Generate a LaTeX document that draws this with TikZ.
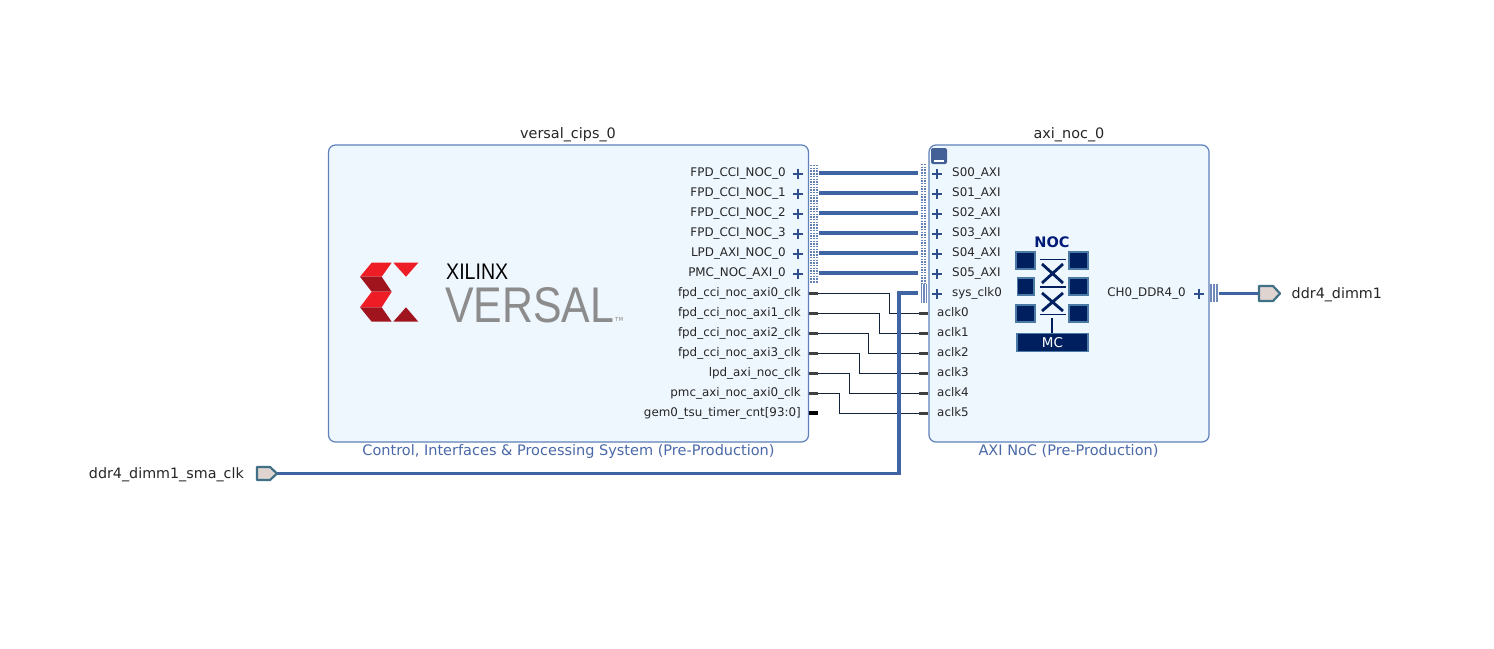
\documentclass[tikz,border=0pt]{standalone}
\usepackage{fontspec}
\usepackage{graphicx}
\setmainfont{DejaVu Sans}
\newfontfamily\logofont{Liberation Sans}
\definecolor{blockfill}{HTML}{EEF6FE}
\definecolor{blockline}{HTML}{5F80B8}
\definecolor{busblue}{HTML}{3F63A3}
\definecolor{plusblue}{HTML}{2F4F8C}
\definecolor{subtitle}{HTML}{4A69A8}
\definecolor{wirenavy}{HTML}{14233C}
\definecolor{stubgrey}{HTML}{404040}
\definecolor{navyicon}{HTML}{001F5F}
\definecolor{iconedge}{HTML}{4A7AA5}
\definecolor{extfill}{HTML}{E0D4D0}
\definecolor{extline}{HTML}{3F7085}
\definecolor{logored}{HTML}{EE1C25}
\definecolor{logodark}{HTML}{A0141E}
\definecolor{logogrey}{HTML}{8C8C8C}
\tikzset{
  block/.style={draw=blockline,line width=1.2pt,fill=blockfill,rounded corners=7pt,inner sep=0pt,outer sep=0pt},
  titletext/.style={font=\fontsize{14.4}{16}\selectfont,text=black!85,inner sep=0pt,anchor=base},
  subtext/.style={font=\fontsize{14.5}{16}\selectfont,text=subtitle,inner sep=0pt,anchor=base},
  portl/.style={font=\fontsize{11.9}{14}\selectfont,text=black!85,inner sep=0pt,anchor=base east},
  portr/.style={font=\fontsize{11.9}{14}\selectfont,text=black!85,inner sep=0pt,anchor=base west},
  extlabel/.style={font=\fontsize{14.3}{16}\selectfont,text=black!85,inner sep=0pt},
  bus/.style={draw=busblue,line width=3.4pt},
  thinwire/.style={draw=wirenavy,line width=0.9pt},
  stub/.style={draw=stubgrey,line width=3pt},
  plusmark/.style={draw=plusblue,line width=2pt},
  dotbar/.style={draw=busblue!80,line width=1.3pt,dash pattern=on 1.4pt off 1.3pt},
  solidbar/.style={draw=busblue!75,line width=1.1pt},
  extport/.style={draw=extline,line width=2.2pt,fill=extfill,line join=round},
  iconsq/.style={draw=iconedge,line width=1.4pt,fill=navyicon},
  iconline/.style={draw=navyicon,line width=1.8pt},
}
\newcommand{\plusat}[2]{\draw[plusmark] (#1-5,#2) -- (#1+5,#2) (#1,#2-5) -- (#1,#2+5);}
\begin{document}
\begin{tikzpicture}[x=1pt,y=-1pt]
\useasboundingbox (0,0) rectangle (1494,648);
\fill[white] (0,0) rectangle (1494,648);

% blocks
\node[block,minimum width=480pt,minimum height=297pt] (cipsbox) at (568.5,293.5) {};
\node[block,minimum width=280pt,minimum height=297pt] (nocbox) at (1069,293.5) {};
\node[titletext] (cipsname) at (568,138.5) {versal\_cips\_0};
\node[titletext] (nocname) at (1069,138.5) {axi\_noc\_0};
\node[subtext] (cipssub) at (568.5,455) {Control, Interfaces \& Processing System (Pre-Production)};
\node[subtext] (nocsub) at (1068.5,455) {AXI NoC (Pre-Production)};

% logo
\fill[logored] (371.7,262.7) -- (391.7,262.7) -- (381.7,276.7) -- (360,276.7) -- cycle;
\fill[logodark] (360,276.7) -- (381.7,276.7) -- (391.7,291.7) -- (371.7,291.7) -- cycle;
\fill[logored] (371.7,291.7) -- (391.7,291.7) -- (381.7,307.3) -- (360,307.3) -- cycle;
\fill[logodark] (360,307.3) -- (381.7,307.3) -- (391.7,321.7) -- (371.7,321.7) -- cycle;
\fill[logored] (393.3,262.7) -- (418.3,262.7) -- (406,276.7) -- cycle;
\fill[logodark] (393.3,321.7) -- (406,307.3) -- (418.3,321.7) -- cycle;
\node[inner sep=0pt,anchor=north west,text=black] (xilinx) at (446,263.5) {\resizebox{62pt}{15.5pt}{\logofont XILINX}};
\node[inner sep=0pt,anchor=north west,text=logogrey] (versal) at (445,287) {\resizebox{169pt}{35pt}{\logofont VERSAL}};
\node[inner sep=0pt,anchor=west,text=logogrey,font=\fontsize{5.5}{6}\selectfont] (tm) at (615,319.5) {TM};

% CIPS labels, ports
\foreach \lab/\y in {FPD\_CCI\_NOC\_0/173,FPD\_CCI\_NOC\_1/193,FPD\_CCI\_NOC\_2/213,FPD\_CCI\_NOC\_3/233,LPD\_AXI\_NOC\_0/253,PMC\_NOC\_AXI\_0/273}
  {\node[portl] at (786,\y+3.3) {\lab};\plusat{798}{\y+0.5}}
\foreach \lab/\y in {fpd\_cci\_noc\_axi0\_clk/293,fpd\_cci\_noc\_axi1\_clk/313,fpd\_cci\_noc\_axi2\_clk/333,fpd\_cci\_noc\_axi3\_clk/353,lpd\_axi\_noc\_clk/373,pmc\_axi\_noc\_axi0\_clk/393,gem0\_tsu\_timer\_cnt[93:0]/413}
  {\node[portl] at (801,\y+3.3) {\lab};}

% NoC labels, ports
\foreach \lab/\y in {S00\_AXI/173,S01\_AXI/193,S02\_AXI/213,S03\_AXI/233,S04\_AXI/253,S05\_AXI/273,sys\_clk0/293}
  {\node[portr] at (952,\y+3.3) {\lab};\plusat{937}{\y+0.5}}
\foreach \lab/\y in {aclk0/313,aclk1/333,aclk2/353,aclk3/373,aclk4/393,aclk5/413}
  {\node[portr] at (937,\y+3.3) {\lab};}
\node[portl] (chlabel) at (1186,296.3) {CH0\_DDR4\_0};
\plusat{1199}{293.5}

% collapse button
\fill[rounded corners=2pt,fill=plusblue!90] (931,148) rectangle (947,164);
\fill[white] (934,159.5) rectangle (944,161.5);

% bus bars
\foreach \x in {811,814,817} \draw[dotbar] (\x,165) -- (\x,283);
\foreach \x in {922,925} \draw[dotbar] (\x,164) -- (\x,283);
\foreach \x in {921.5,924,926.5} \draw[solidbar] (\x,284) -- (\x,303);
\foreach \x in {1211,1214,1217} \draw[solidbar] (\x,284) -- (\x,302);

% named connector ends
\foreach \i/\y in {0/173,1/193,2/213,3/233,4/253,5/273}{
  \coordinate (mout\i) at (819,\y);
  \coordinate (sin\i) at (918,\y);
}
\foreach \i/\y/\x in {0/293/889,1/313/879,2/333/868,3/353/859,4/373/849,5/393/839}{
  \coordinate (cout\i) at (809,\y);
  \coordinate (bend\i) at (\x,0);
}
\foreach \i/\y in {0/313,1/333,2/353,3/373,4/393,5/413}{
  \coordinate (cin\i) at (928,\y);
}

% external ports
\node[inner sep=0pt,minimum size=0pt] (extclk) at (277,473.5) {};
\node[inner sep=0pt,minimum size=0pt] (extddr) at (1258,293.5) {};
\coordinate (gemout) at (809,413);
\coordinate (gemend) at (818,413);
\coordinate (sysclk) at (918,293);
\coordinate (chout) at (1219,293.5);
\coordinate (clkturn) at (899,0);

% AXI buses
\foreach \i in {0,...,5} \draw[bus] (mout\i) -- (sin\i);

% clock wires
\foreach \i in {0,...,5}{
  \draw[thinwire] (cout\i) -| (bend\i |- cin\i) -- (cin\i);
  \draw[stub] (cout\i) -- ++(9,0);
  \draw[stub] (cin\i) -- ++(-9,0);
}
\draw[draw=black,line width=3.4pt] (gemout) -- (gemend);

% system clock and DDR
\draw[bus] (extclk) -- (extclk -| clkturn) -- (clkturn |- sysclk) -- (sysclk);
\draw[bus] (chout) -- (extddr);
\draw[extport] (257,467) -- (270,467) -- (277,473.5) -- (270,480) -- (257,480) -- cycle;
\draw[extport] (1259,286) -- (1273,286) -- (1280,293.5) -- (1273,301) -- (1259,301) -- cycle;
\node[extlabel,anchor=base east] (clklabel) at (244,478) {ddr4\_dimm1\_sma\_clk};
\node[extlabel,anchor=base west] (ddrlabel) at (1291.5,298) {ddr4\_dimm1};

% NoC icon
\node[inner sep=0pt,text=navyicon!85!blue,font=\fontsize{14.5}{16}\selectfont\bfseries] (noclabel) at (1052,242) {NOC};
\foreach \xa/\ya/\xb/\yb in {1016/252/1035/269,1069/252/1088/269,1017.5/278/1034/295,1069/278/1088/295,1016/305/1035/322,1069/305/1088/322}
  \draw[iconsq] (\xa,\ya) rectangle (\xb,\yb);
\foreach \y in {259.5,287,314.5} \draw[iconline] (1040,\y) -- (1066,\y);
\draw[navyicon,line width=2.8pt] (1042,264) -- (1063,283) (1063,264) -- (1042,283);
\draw[navyicon,line width=2.8pt] (1042,293) -- (1063,311) (1063,293) -- (1042,311);
\draw[iconline] (1052,318) -- (1052,333);
\node[iconsq,minimum width=71pt,minimum height=18pt,inner sep=0pt,text=white,font=\fontsize{13.5}{14}\selectfont] (mcbox) at (1052.5,342.5) {MC};
\end{tikzpicture}
\end{document}
